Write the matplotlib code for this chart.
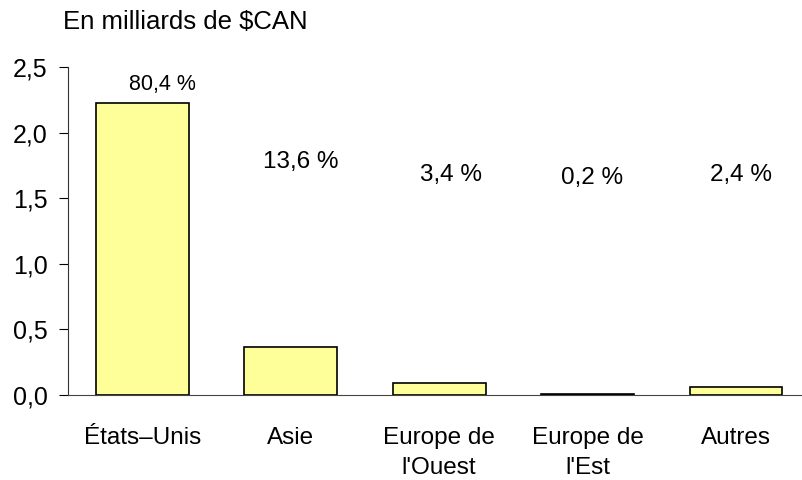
import numpy as np
import matplotlib.pyplot as plt

plt.rcParams['font.family'] = ['Liberation Sans', 'DejaVu Sans']

regions = ["États–Unis", "Asie", "Europe de\nl'Ouest", "Europe de\nl'Est", "Autres"]
values = [2.23, 0.366, 0.092, 0.005, 0.061]
shares = ["80,4 %", "13,6 %", "3,4 %", "0,2 %", "2,4 %"]

# where the share labels sit (data coords)
label_x_off = [0.135, 0.07, 0.08, 0.03, 0.03]
label_y = [2.37, 1.78, 1.68, 1.655, 1.68]
label_size = [15.5, 17.5, 17.5, 17.5, 17.5]

fig = plt.figure(figsize=(8.02, 4.8), dpi=100)
ax = fig.add_axes([68 / 802, 0.1771, 1 - 68 / 802, 0.6827])

x = np.arange(len(regions))
ax.bar(x, values, width=0.625, color="#FFFF99", edgecolor="black", linewidth=1.2)

for i, s in enumerate(shares):
    ax.text(x[i] + label_x_off[i], label_y[i], s, ha="center", va="center",
            fontsize=label_size[i])

ax.set_xlim(-0.5, 4.444)
ax.set_ylim(0, 2.5)
ax.set_yticks([0, 0.5, 1.0, 1.5, 2.0, 2.5])
ax.set_yticklabels([f"{v:.1f}".replace(".", ",") for v in ax.get_yticks()])
ax.set_xticks(x)
ax.set_xticklabels(regions, fontsize=17.5, va="top", linespacing=1.5)
ax.tick_params(axis="x", length=0, pad=23)
ax.tick_params(axis="y", length=6.5, labelsize=18, pad=8)

for side in ["top", "right"]:
    ax.spines[side].set_visible(False)
ax.spines["left"].set_color("#333333")
ax.spines["bottom"].set_color("#444444")

fig.text(63 / 802, 1 - 22 / 480, "En milliards de $CAN", fontsize=18.5, va="center", ha="left")

fig.savefig("out.png", dpi=100)
